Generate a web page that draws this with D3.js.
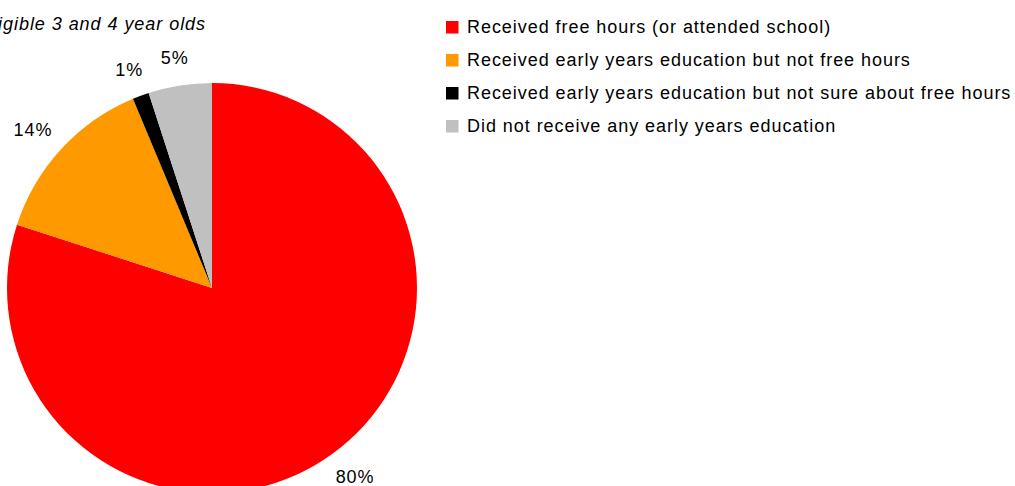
<!DOCTYPE html>
<html>
<head>
<meta charset="utf-8">
<script src="https://cdn.jsdelivr.net/npm/d3@7"></script>
<style>
  html, body { margin: 0; padding: 0; background: #fff; }
  svg { display: block; font-family: "Liberation Sans", Arial, sans-serif; }
</style>
</head>
<body>
<svg id="chart" width="1015" height="486"></svg>
<script>
// Share of eligible 3 and 4 year olds by early years education status (%)
const categories = [
  "Received free hours (or attended school)",
  "Received early years education but not free hours",
  "Received early years education but not sure about free hours",
  "Did not receive any early years education"
];
const shares = [80.0, 13.7, 1.3, 5.0];
const colors = ["#ff0000", "#ff9900", "#000000", "#c0c0c0"];
const title = "Eligible 3 and 4 year olds";

const svg = d3.select("#chart");
const cx = 212, cy = 288, radius = 205;
const spacing = "0.95px";

const data = categories.map((c, i) => ({ name: c, value: shares[i], color: colors[i] }));

const pie = d3.pie().value(d => d.value).sort(null);
const arc = d3.arc().innerRadius(0).outerRadius(radius);
const arcs = pie(data);

const g = svg.append("g").attr("transform", `translate(${cx},${cy})`);

g.selectAll("path.slice")
  .data(arcs)
  .join("path")
  .attr("class", "slice")
  .attr("d", arc)
  .attr("fill", d => d.data.color);

// Outside-end labels: box sits just beyond the rim along the mid angle
const labelR = 224;
const fontSize = 18;
g.selectAll("text.pct")
  .data(arcs)
  .join("text")
  .attr("class", "pct")
  .attr("font-size", fontSize)
  .attr("letter-spacing", spacing)
  .attr("fill", "#000")
  .attr("text-anchor", "middle")
  .text(d => Math.round(d.data.value) + "%")
  .each(function(d) {
    const a = (d.startAngle + d.endAngle) / 2;
    const dx = Math.sin(a), dy = -Math.cos(a);
    const w = this.getComputedTextLength();
    const h = fontSize;
    const x = dx * labelR + dx * w / 2;
    const y = dy * labelR + dy * h / 2;
    d3.select(this).attr("x", x).attr("y", y + fontSize * 0.35);
  });

// Title (partly outside the left edge)
svg.append("text")
  .attr("x", 206)
  .attr("y", 30)
  .attr("text-anchor", "end")
  .attr("font-size", 18)
  .attr("letter-spacing", spacing)
  .attr("font-style", "italic")
  .attr("fill", "#000")
  .text(title);

// Legend
const legend = svg.append("g").attr("transform", "translate(446,21)");
const rowH = 33;
const items = legend.selectAll("g.item")
  .data(data)
  .join("g")
  .attr("class", "item")
  .attr("transform", (d, i) => `translate(0,${i * rowH})`);

items.append("rect")
  .attr("width", 12.5)
  .attr("height", 12.5)
  .attr("fill", d => d.color);

items.append("text")
  .attr("x", 21)
  .attr("y", 12)
  .attr("font-size", 18)
  .attr("letter-spacing", spacing)
  .attr("fill", "#000")
  .text(d => d.name);
</script>
</body>
</html>
